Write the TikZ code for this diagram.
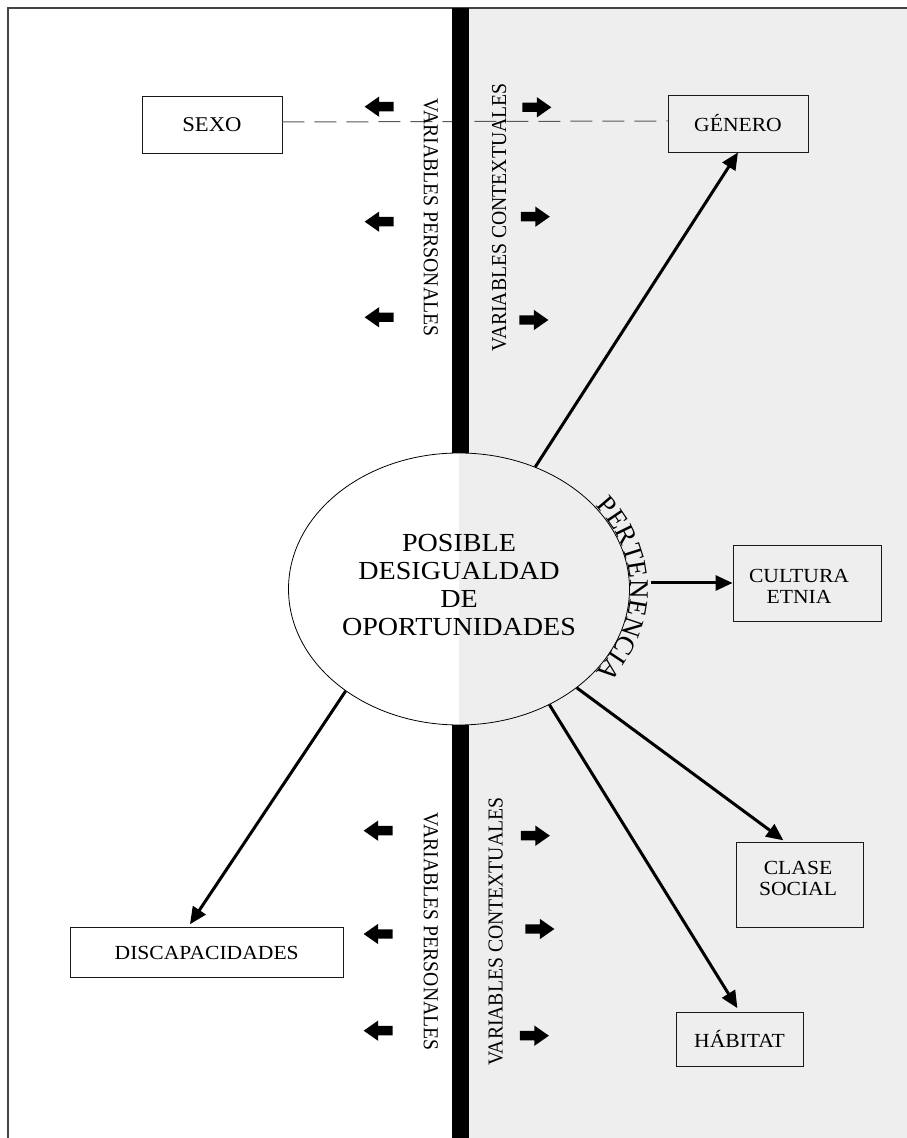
\documentclass[tikz,border=0pt]{standalone}
\usepackage{fontspec}
\setmainfont{Liberation Serif}
\usetikzlibrary{shapes.geometric,shapes.arrows,arrows.meta,decorations.text,calc}
\definecolor{bggrey}{HTML}{EEEEEE}
\definecolor{framecol}{HTML}{444444}
\definecolor{dashcol}{HTML}{5A5A5A}
\newcommand\hsx[1]{\scalebox{1.08}[1]{#1}}
\newcommand\vsx[1]{\scalebox{1}[1.08]{#1}}
\newcommand\fsz[2]{\fontsize{#1}{#2}\selectfont}
\begin{document}
\begin{tikzpicture}[x=1pt,y=1pt,
  box/.style={draw=black!90, line width=0.9pt, inner sep=0pt, align=center},
  conn/.style={line width=3pt, -{Triangle[length=17pt,width=15pt]}},
  smallarrow/.style={single arrow, fill=black, draw=none, inner sep=4.5pt,
    minimum height=29pt, single arrow head extend=5.5pt,
    single arrow tip angle=70, single arrow head indent=0pt, outer sep=0pt},
  leftarr/.style={smallarrow, shape border rotate=180},
  vlab/.style={inner sep=0pt, font=\fsz{19.7}{20}},
]
\useasboundingbox (0,0) rectangle (907,1138);
\fill[white] (0,0) rectangle (907,1138);
\fill[bggrey] (469,0) rectangle (907,1130);
\draw[framecol, line width=1.5pt] (8,0) -- (8,1130) -- (907,1130);

% boxes
\node[box, fill=white, minimum width=140, minimum height=57, font=\fsz{21}{24}] (sexo) at (212,1013.5) {\hsx{SEXO}};
\node[box, minimum width=140, minimum height=57, font=\fsz{20}{24}] (gen) at (738,1014.5) {\hsx{GÉNERO}};
\node[box, minimum width=148, minimum height=76] (cul) at (807,555) {};
\node[inner sep=0pt, font=\fsz{20}{21.6}] (cultxt) at (799,549.4) {\hsx{\begin{tabular}{@{}c@{}}CULTURA\\ETNIA\end{tabular}}};
\node[box, minimum width=127, minimum height=85] (cla) at (799.5,253.5) {};
\node[inner sep=0pt, font=\fsz{20}{21.6}] (clatxt) at (798,257.4) {\hsx{\begin{tabular}{@{}c@{}}CLASE\\SOCIAL\end{tabular}}};
\node[box, minimum width=127, minimum height=54, font=\fsz{20}{24}] (hab) at (739.5,99) {\hsx{HÁBITAT}};
\node[box, fill=white, minimum width=273, minimum height=50.5, font=\fsz{20}{24}] (dis) at (206.7,185.5) {\hsx{DISCAPACIDADES}};

% dashed link
\draw[dashcol, line width=1pt, dash pattern=on 22pt off 10pt] ([yshift=2.5pt]sexo.east) -- ([yshift=2.5pt]gen.west);

% central bar
\fill[black] (452,0) rectangle (469,1130);

% small arrows
\node[leftarr] (la1) at (382.5,1031.3) {};
\node[leftarr] (la2) at (382.5,916.3) {};
\node[leftarr] (la3) at (382.5,820.7) {};
\node[leftarr] (la4) at (381.5,307.3) {};
\node[leftarr] (la5) at (381.5,204) {};
\node[leftarr] (la6) at (381.5,107.3) {};
\node[smallarrow] (ra1) at (533.5,1030.7) {};
\node[smallarrow] (ra2) at (532,921.3) {};
\node[smallarrow] (ra3) at (530.5,818) {};
\node[smallarrow] (ra4) at (532,302.3) {};
\node[smallarrow] (ra5) at (536.5,209) {};
\node[smallarrow] (ra6) at (531,102.3) {};

% vertical labels
\node[vlab, rotate=-90] (vp1) at (430.8,920.5) {\vsx{VARIABLES PERSONALES}};
\node[vlab, rotate=90] (vc1) at (499.2,920.5) {\vsx{VARIABLES CONTEXTUALES}};
\node[vlab, rotate=-90] (vp2) at (430.8,206.3) {\vsx{VARIABLES PERSONALES}};
\node[vlab, rotate=90] (vc2) at (495.8,206.3) {\vsx{VARIABLES CONTEXTUALES}};

% ellipse
\node[ellipse, draw=black, line width=0.8pt, fill=white, minimum width=341, minimum height=272, inner sep=0pt,
  path picture={\fill[bggrey] (path picture bounding box.south) rectangle (path picture bounding box.north east);}] (e) at (459,549) {};
\node[inner sep=0pt, font=\fsz{26}{28}] (title) at (459,550) {\hsx{\begin{tabular}{@{}c@{}}POSIBLE\\DESIGUALDAD\\DE\\OPORTUNIDADES\end{tabular}}};

% curved label
\path[decorate, decoration={text along path, text align=center,
  text={|\fsz{27}{27}|PERTENENCIA}}]
  (459,549) ++(50:171.5 and 137) arc[start angle=50, end angle=-50, x radius=171.5, y radius=137];

% connectors
\draw[conn] (e.58.5) -- (gen.south);
\draw[conn] ([shift={(21,6)}]e.east) -- (cul.west);
\draw[conn, shorten >=2pt] (e.320.2) -- ([xshift=-14.5pt]cla.north);
\draw[conn, shorten >=4pt] (e.308.7) -- (hab.north);
\draw[conn, shorten >=3pt] (e.222) -- ([xshift=-18.4pt]dis.north);
\end{tikzpicture}
\end{document}
